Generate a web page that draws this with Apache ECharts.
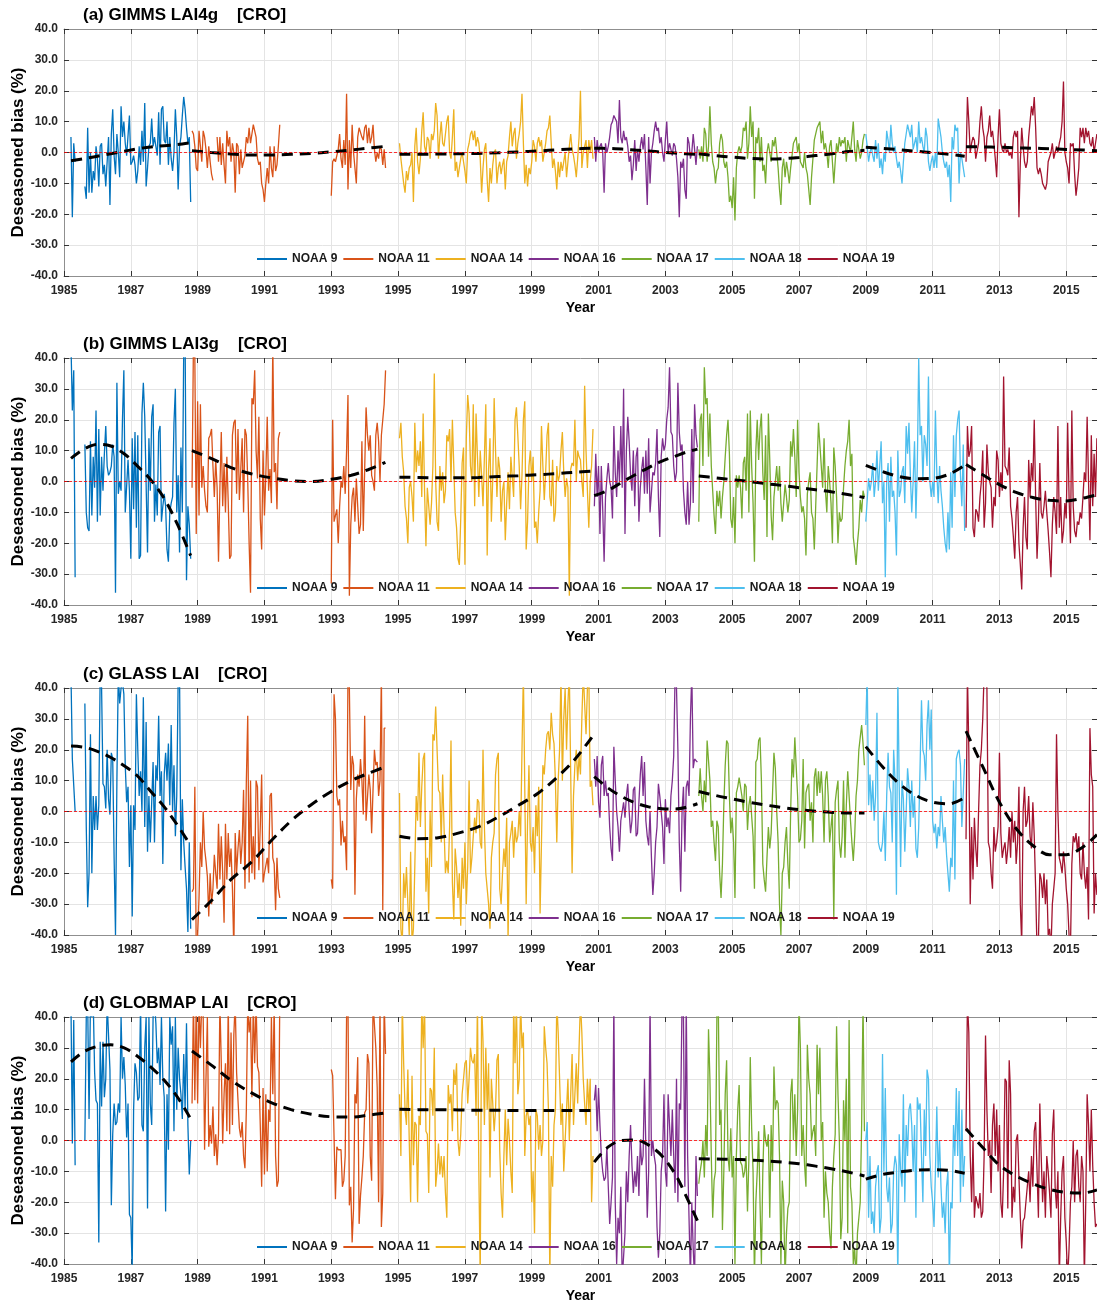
<!DOCTYPE html>
<html><head><meta charset="utf-8">
<script src="https://cdn.jsdelivr.net/npm/echarts@6/dist/echarts.min.js"></script>
<style>html,body{margin:0;padding:0;background:#fff}#c{width:1097px;height:1304px}</style>
</head><body><div id="c"></div>
<script>
const X0 = 1985, XMAX = 2015.92, STEP = 1 / 24;
const satNames = ['NOAA 9', 'NOAA 11', 'NOAA 14', 'NOAA 16', 'NOAA 17', 'NOAA 18', 'NOAA 19'];
const satColors = ['#0072BD', '#D95319', '#EDB120', '#7E2F8E', '#77AC30', '#4DBEEE', '#A2142F'];
const panelTitles = ['(a) GIMMS LAI4g    [CRO]', '(b) GIMMS LAI3g    [CRO]', '(c) GLASS LAI    [CRO]', '(d) GLOBMAP LAI    [CRO]'];
const yTickStep = 10, yMin = -40, yMax = 40, xTickStep = 2;
// first sample time (decimal year) of each data run, semi-monthly samples
const runStarts = {
  'NOAA 9': [1985.208, 1985.625], 'NOAA 11': [1988.833, 1993.0], 'NOAA 14': [1995.042],
  'NOAA 16': [2000.875], 'NOAA 17': [2004.0], 'NOAA 18': [2009.0], 'NOAA 19': [2012.0]
};
// knot times of the fitted trend for each sensor period
const trendTimes = {
  'NOAA 9': [1985.21, 1985.6, 1986.0, 1986.4, 1986.8, 1987.2, 1987.6, 1988.0, 1988.4, 1988.79],
  'NOAA 11': [1988.83, 1989.4, 1990.0, 1990.6, 1991.2, 1991.8, 1992.4, 1993.0, 1993.6, 1994.1, 1994.62],
  'NOAA 14': [1995.04, 1995.6, 1996.2, 1996.8, 1997.4, 1998.0, 1998.6, 1999.2, 1999.8, 2000.3, 2000.83],
  'NOAA 16': [2000.87, 2001.3, 2001.7, 2002.1, 2002.5, 2002.9, 2003.3, 2003.6, 2003.96],
  'NOAA 17': [2004.0, 2004.5, 2005.0, 2005.5, 2006.0, 2006.5, 2007.0, 2007.5, 2008.0, 2008.5, 2008.96],
  'NOAA 18': [2009.0, 2009.5, 2010.0, 2010.5, 2011.0, 2011.5, 2011.96],
  'NOAA 19': [2012.0, 2012.5, 2013.0, 2013.5, 2014.0, 2014.5, 2015.0, 2015.5, 2015.92]
};

// ---------- (a) GIMMS LAI4g ----------
const a_N9_1 = [5,-21,3,-3];
const a_N9_2 = [-11,-15,8,-13,0,-13,-6,-9,2,-2,-11,2,3,-7,-4,-11,-11,5,-17,6,14,-1,-7,6,0,-8,15,5,10,3,-1,-1,12,-4,-3,-1,-4,-10,-6,2,-4,7,-3,16,-11,-5,2,3,11,2,5,2,-1,13,-4,14,15,4,3,10,-4,5,-2,-6,0,14,5,-12,2,5,12,18,14,8,3,5,-16];
const a_N11_1 = [7,6,2,-5,-6,7,2,-3,7,5,1,-5,2,-3,-7,-9,null,null,5,-3,5,-4,3,-4,-10,7,2,5,-3,3,0,-13,3,2,-7,1,-5,-5,-1,5,3,8,3,6,9,9,5,-2,-4,-3,-10,-12,-16,-10,-5,-10,2,-5,-8,2,-6,-4,2,9];
const a_N11_2 = [-14,-3,-2,-3,-3,1,6,-2,-5,4,-4,19,-12,4,-5,9,0,-5,-10,5,8,8,5,4,8,9,3,8,3,5,9,1,-3,0,-2,2,1,-4,1,-5];
const a_N14 = [3,-2,-6,-10,-13,-6,-9,-5,-4,0,-16,2,8,-3,-7,-2,7,13,2,0,5,4,-2,6,4,7,16,12,-2,5,10,3,2,6,10,12,0,-2,5,14,-6,-3,-8,-5,-2,0,-3,-6,-10,1,3,6,7,4,7,2,5,3,-2,-13,-5,1,3,-9,-16,-5,-10,-4,0,1,-10,-5,-3,-7,-4,-2,-12,-3,-1,5,10,2,6,8,-2,3,6,10,19,3,-10,-4,-11,-5,-7,-3,4,2,-3,3,5,2,4,-3,0,3,7,8,12,3,-5,-2,-6,-12,-3,-8,-3,-6,-3,0,-8,-3,2,6,1,-1,-4,-8,-2,5,20,-5,0,2,4,-5,4,0,4,-2];
const a_N16 = [5,-3,4,0,2,3,0,-13,3,0,2,5,9,10,12,12,10,3,17,5,3,7,4,5,2,-3,-1,-9,-4,4,-6,1,-3,2,5,1,6,-5,-17,5,-10,0,3,7,10,7,8,3,5,0,-3,4,10,0,3,1,-1,3,2,-2,-8,-21,-3,-5,-2,-12,-15,5,3,-2,0,6,1,-4,2];
const a_N17 = [1,-2,2,-3,8,6,-3,2,15,3,-3,-5,-10,-6,-5,3,6,4,-3,-5,-3,-8,-16,-14,-18,-8,-22,-5,0,2,0,2,8,7,10,-2,3,15,5,10,-15,5,3,8,-3,5,-6,-4,-10,0,3,0,-3,4,2,5,5,-5,-12,-17,-5,-2,-8,-3,-6,-10,-5,-1,3,4,5,0,3,-3,-3,-5,0,-5,-7,-12,-17,-8,-2,4,6,8,8,10,3,7,1,3,0,-5,2,4,-3,-10,-3,3,0,5,2,4,3,5,-3,4,2,0,0,10,1,-3,4,1,-2,0,4,6];
const a_N18 = [6,2,-3,0,2,-1,-3,4,-2,3,-5,-2,-7,0,-3,7,4,0,9,3,0,2,-2,-5,-3,-6,-10,-3,3,6,9,9,5,9,1,3,5,0,10,3,5,2,0,8,5,-3,-6,-3,-1,-5,0,-5,11,8,5,0,-3,-5,-3,-8,-4,-16,5,1,9,7,8,-10,0,-2,-5,-8];
const a_N19 = [-3,18,10,0,3,5,4,-2,-2,3,10,15,8,5,-3,5,7,12,5,7,3,-2,-8,5,14,3,1,0,3,0,1,-1,0,-2,5,7,5,7,-21,-3,8,2,-3,-5,-3,5,10,15,12,18,8,-5,-7,-5,-7,-10,-11,-12,-10,-3,-3,0,3,-2,0,2,0,3,5,10,23,0,-3,-5,-10,3,2,3,-7,-14,-10,-5,8,5,8,3,8,5,7,3,2,5,0,3,6];
const a_trend = [
  [-2.7,-2.0,-1.2,-0.4,0.4,1.2,1.8,2.2,2.6,3.2],
  [0.6,0,-0.5,-0.8,-0.8,-0.6,-0.3,0.2,0.8,1.4,2.0],
  [-0.6,-0.6,-0.5,-0.4,-0.3,-0.1,0.2,0.5,0.9,1.2,1.4],
  [1.4,1.3,1.1,0.8,0.5,0.1,-0.2,-0.4,-0.6],
  [-0.4,-1.0,-1.5,-1.9,-2.1,-2.0,-1.6,-1.0,-0.4,0.3,0.7],
  [1.7,1.3,0.9,0.4,-0.1,-0.6,-1.2],
  [1.9,1.8,1.7,1.5,1.4,1.2,1.0,0.8,0.6]
];

// ---------- (b) GIMMS LAI3g ----------
const b_N9_1 = [45,23,36,-31];
const b_N9_2 = [12,-10,-15,-16,13,-11,8,-2,23,-13,17,-11,8,-3,9,18,5,2,3,5,12,8,-36,32,-4,0,-3,20,36,-10,-10,7,-3,-25,14,-9,16,-15,15,-25,-24,22,32,21,21,-23,14,-3,21,25,-13,-1,-11,16,18,-13,-8,-4,-8,-22,-26,-10,-7,-5,19,30,-10,2,-23,11,-10,42,48,-32,-8,-14,-25];
const b_N11_1 = [-2,45,40,-17,26,-11,25,-2,5,-3,-8,-10,14,15,17,5,-5,7,-2,-26,-2,16,-8,6,-10,8,-7,-25,-24,15,19,20,-4,17,-6,4,14,-10,17,15,0,-20,-36,27,25,36,10,1,21,-12,-22,10,-11,2,21,-3,4,-7,45,3,6,-9,14,16];
const b_N11_2 = [-33,20,-13,-13,-9,-20,-8,0,-2,5,-4,10,28,-37,-14,-5,-2,-13,1,-8,-17,-14,13,-16,-16,24,15,10,15,2,0,-3,15,19,13,0,15,20,25,36];
const b_N14 = [14,19,8,3,-8,-12,-20,-2,0,-5,-13,19,3,10,5,13,-5,22,-3,-21,-2,-2,-14,-7,5,35,0,-13,-16,5,-3,3,-7,-3,15,13,17,0,20,5,-10,-15,-25,-27,-12,6,11,-27,14,28,22,5,0,25,-8,22,8,-5,10,2,-8,8,25,-24,4,14,-13,1,27,10,-5,8,4,-13,-3,0,-19,-7,3,-9,8,8,-5,20,24,15,5,-9,2,20,26,-22,-13,5,10,0,8,-15,-13,-20,-10,-3,18,5,-6,3,15,19,-5,-8,7,-13,-10,5,0,2,10,16,3,-5,1,-2,-37,4,6,5,20,0,10,8,7,0,-5,31,10,-3,-15,0,5,17];
const b_N16 = [-8,9,-5,5,-17,5,-9,-26,-5,1,6,0,-2,-12,18,3,-5,10,0,18,-2,30,-17,10,21,13,2,-3,10,-8,8,11,-13,-2,4,8,-4,10,-4,14,-10,-10,3,2,6,17,-5,-18,8,14,10,12,20,24,37,16,15,5,0,3,32,16,10,12,-3,-10,-14,0,-14,-7,17,-7,25,15,11];
const b_N17 = [-13,20,22,5,37,25,27,8,22,5,5,-11,-17,-3,-8,-3,-12,-5,0,8,15,20,9,-12,-15,-5,-20,2,-2,2,-2,-12,6,8,-3,22,-10,23,5,-7,-26,10,20,7,17,22,3,-6,15,-18,22,7,-11,-19,-5,0,5,-3,5,-7,-13,-7,-1,-5,-10,-6,13,8,17,8,-5,20,3,-5,-10,-8,-12,-24,-4,0,3,-10,-12,-22,-8,5,19,12,5,-2,14,-3,-10,5,0,-7,-20,11,5,-5,-20,-10,-13,-12,-2,5,10,13,20,5,9,-18,-22,-27,-20,-15,-6,-10,-3,-5];
const b_N18 = [-13,-6,1,-3,0,6,-5,0,10,-3,5,13,-7,0,-31,0,6,-13,8,-5,-3,-10,-24,10,-5,-3,3,5,-7,18,9,19,2,-10,0,13,-12,5,40,15,18,0,15,12,5,34,0,-5,0,-5,23,3,-7,5,-3,-8,-15,-20,-23,-10,-22,3,-15,15,-5,15,20,23,2,-8,12,-16];
const b_N19 = [-15,18,8,10,18,-15,-18,-9,-10,-13,-5,0,10,-15,-7,12,3,0,-2,-15,-5,-8,10,7,-5,3,-3,34,5,4,2,11,-8,-12,-18,-25,-10,-5,-20,-27,-35,-15,-5,-18,-22,7,-5,6,0,20,-5,-25,-13,6,-10,-12,-8,-3,-10,-16,-23,-31,-14,-5,-10,-17,18,-15,-5,-20,-16,-7,-12,19,-5,-20,23,-8,-16,-18,-13,-14,-10,-12,-5,3,0,21,0,-19,15,-8,9,-5,14];
const b_trend = [
  [7.5,10.5,12,11.5,9,5,0.5,-5.5,-14,-24],
  [10,7.5,4.5,2.5,1.2,0.3,0,0.7,2,3.8,6.2],
  [1.4,1.3,1.2,1.2,1.3,1.6,1.9,2.2,2.6,3.0,3.4],
  [-4.6,-2.8,-0.2,2.2,4.5,6.6,8.2,9.4,10.5],
  [1.8,1.2,0.6,0,-0.7,-1.3,-2.0,-2.7,-3.4,-4.3,-5.2],
  [5.2,3.2,1.6,0.9,1.0,2.4,5.3],
  [5.5,2.2,-1,-3.5,-5.2,-6.1,-6.3,-5.4,-4.3]
];

// ---------- (c) GLASS LAI ----------
const c_N9_1 = [45,17,17,0];
const c_N9_2 = [35,-5,-31,-20,25,-20,5,-6,5,-6,2,45,40,9,8,1,20,4,-1,19,17,-15,-40,10,45,35,40,42,38,15,3,8,-18,2,-34,2,-6,38,20,5,13,0,37,-5,29,-13,5,-10,3,16,-10,15,10,31,5,13,-17,12,19,10,22,2,28,0,15,-8,5,42,45,-19,4,-10,-18,-25,-39,-10,-38];
const c_N11_1 = [-26,-25,8,-45,-40,-28,-10,-18,0,-12,-16,-21,-34,-20,-30,-25,-14,-20,-25,-4,-22,-8,-20,-36,-4,-22,-7,-18,-12,-25,-45,-7,-20,-12,-6,-17,-10,7,-25,10,31,-23,10,-20,-8,-22,10,8,-19,-5,12,-23,-20,-20,-15,-20,5,6,-15,-17,-32,-15,-25,-28];
const c_N11_2 = [-22,-25,38,30,5,2,4,-11,-3,-10,-8,-19,45,40,7,18,15,-27,4,12,8,17,10,-1,31,-3,-3,12,7,-7,7,20,15,16,5,10,45,-32,27,27];
const c_N14 = [6,-38,-43,-20,-28,-18,-30,-40,-13,-43,-38,-18,5,-3,19,-5,8,17,19,-26,-15,-33,0,-18,25,23,34,20,7,6,-10,12,-5,-20,-16,-20,-5,23,-23,-35,-12,-18,-28,-20,-37,-15,-25,-10,-30,-18,10,-20,-15,-8,-2,-7,4,3,-10,-12,20,-5,-20,-25,-30,-38,-15,-10,-7,12,17,19,-25,-30,-20,-12,-18,-2,-42,-10,-7,-3,-15,-5,-10,-8,0,-8,20,45,45,-30,-3,15,-10,-13,-5,-20,2,-8,8,-33,-10,15,12,20,25,26,20,32,25,22,10,-10,10,20,45,10,30,40,20,35,45,12,-20,5,15,20,10,18,12,30,45,35,25,40,45,8,10,2];
const c_N16 = [17,8,18,3,-2,15,18,5,10,5,6,-5,-12,-16,21,10,0,-5,-13,-3,0,3,-2,5,9,0,-7,-3,7,8,-8,-7,3,12,18,5,16,-3,-8,-11,0,-15,-27,-20,-10,-5,9,5,0,-5,-17,4,-5,-2,-7,5,10,18,45,40,20,-10,-26,0,8,-13,8,10,5,30,45,14,17,17,16];
const c_N17 = [5,14,5,0,10,3,23,23,10,-5,-3,-10,-16,-3,-5,-20,-28,-17,2,15,23,22,5,-7,-2,-10,-28,6,8,11,11,5,0,9,8,-6,2,5,5,-8,-25,16,17,23,24,10,-17,-22,-26,-15,-5,-12,-7,6,19,14,0,-10,-30,-40,-20,-18,-10,-5,-17,-25,0,17,11,24,24,5,-10,-9,-3,17,-12,6,8,9,-3,3,-10,11,14,5,13,6,13,5,-10,10,13,5,-10,-5,0,-35,3,7,10,-10,-15,-8,10,-15,2,13,5,-3,-10,-16,-8,5,10,20,24,28,22,15];
const c_N18 = [28,45,2,12,0,10,-3,5,32,-10,-12,-13,-10,0,-16,5,19,8,6,-10,20,10,-27,45,8,-18,10,4,-13,0,14,8,-5,10,-2,5,-12,-15,-5,15,36,20,18,10,28,36,20,33,-3,-7,-4,-12,-5,-8,5,-3,-10,-5,-14,-20,-26,-15,-18,10,-22,17,19,20,15,-5,6,17];
const c_N19 = [-9,45,20,-30,-5,-22,-2,-12,-18,0,15,20,30,45,45,40,-10,-12,-20,-25,-5,-13,-10,-5,19,-7,-15,-12,-10,-17,-12,-5,-15,0,-10,-3,-17,-10,8,-30,-43,0,8,-5,-3,5,-8,-12,3,-8,-25,-45,-42,-20,-22,-28,-20,-30,-22,-40,-38,-45,-30,-25,-20,25,0,-15,-17,-20,-13,-18,-25,-30,-40,-45,-17,-8,-10,-7,-13,-8,-20,-22,-10,-20,-25,-18,-35,27,12,8,-33,-20,-27];
const c_trend = [
  [21.2,20.8,19.5,17.5,14.8,11.5,6.5,1.5,-4.5,-11],
  [-35,-29,-22,-16.5,-9.5,-3,2.2,6.5,10,12.3,14.5],
  [-8,-8.8,-8.5,-7,-5,-1.8,2,6,11.5,17,24.5],
  [11.3,7.5,4.8,2.8,1.5,0.9,0.8,1.3,2.5],
  [6.5,5.2,4.1,3.0,2.1,1.3,0.6,0.1,-0.3,-0.5,-0.5],
  [21,14.5,9,5.2,3,2.5,4.5],
  [26,14.5,3,-5.5,-11,-14,-14,-11.5,-7.5]
];

// ---------- (d) GLOBMAP LAI ----------
const d_N9_1 = [45,-1,39,-8];
const d_N9_2 = [0,40,45,7,45,40,45,22,13,12,-33,32,11,32,14,20,45,45,23,-21,2,12,5,6,12,9,40,20,27,18,1,12,-24,-25,-42,10,25,22,13,14,45,5,3,30,40,-22,40,12,5,40,45,38,25,30,18,40,20,14,-23,15,-3,40,31,37,3,40,10,30,20,15,7,28,10,38,5,-11,0];
const d_N11_1 = [12,45,13,45,12,45,30,45,40,-3,20,40,-2,5,-1,11,-5,2,-8,2,45,25,-1,15,25,3,45,2,35,5,34,45,22,22,4,1,6,-5,-9,10,45,35,40,14,45,25,45,24,22,5,-15,17,-11,15,-10,10,6,40,15,45,-5,-15,-13,45];
const d_N11_2 = [23,21,21,-19,-2,-3,-3,-3,-15,-13,-5,40,45,-21,-15,-33,-22,15,12,27,-27,-18,-12,-5,9,10,28,25,-5,-13,45,45,30,17,-20,45,-28,-17,45,28];
const d_N14 = [15,-5,45,25,10,5,23,0,-20,21,-8,6,5,-20,8,5,45,30,45,3,2,-17,17,16,8,30,-15,-10,-1,-11,-5,-12,-5,-17,-25,18,12,15,3,23,18,25,0,-5,2,15,20,25,26,12,20,30,26,25,28,8,45,-10,-45,45,32,5,30,10,25,-12,20,12,3,10,26,28,-3,-17,-25,-5,10,-8,7,0,-10,-17,45,25,45,15,20,45,30,35,-5,8,10,5,8,-20,-10,-30,10,8,-3,5,-5,0,37,30,25,10,-45,-5,-15,5,10,45,35,20,5,12,-10,0,10,20,0,15,28,5,15,25,12,30,45,35,20,12,5,20,10,20,-20,-5];
const d_N16 = [13,18,3,17,5,-5,-10,-13,-12,-2,-15,-27,-20,-12,45,-20,-40,-25,-30,-15,-45,-45,-30,-10,-20,-5,5,-8,-17,-10,-15,-5,-18,0,-8,-5,20,20,-25,-10,45,-5,0,-5,-8,-28,-38,-30,-10,-5,15,-10,-15,15,5,-5,10,-5,-17,20,-20,12,10,45,40,-15,45,-5,-25,-45,-20,-35,-45,-5,-18];
const d_N17 = [-14,-10,-7,0,-12,5,-5,36,20,-5,-25,-13,-10,40,45,5,10,-29,-10,15,26,-5,-10,4,-12,-5,-40,-5,10,18,-7,-8,-12,-10,-5,-23,-6,27,4,-10,-45,-20,-10,3,-20,-40,-10,5,0,-2,2,-25,5,-10,24,10,13,12,-5,-40,-13,-20,-45,-30,-22,-20,15,20,0,15,-5,10,45,30,-5,5,-8,-15,31,20,15,0,3,5,-5,31,15,30,0,6,-25,-10,-17,-20,-30,-35,-15,-5,2,37,15,0,-32,-25,13,0,20,-30,39,-15,-20,-40,-35,-45,-30,-25,-20,5,45,3];
const d_N18 = [0,6,-25,-5,-27,-23,-30,-15,-10,-8,-30,-25,28,-10,17,-15,-20,-12,-30,-27,-10,-5,-8,-45,2,-10,-15,15,-20,5,-5,10,12,5,-10,5,-25,14,10,12,-5,-20,10,-5,23,20,-5,-15,-20,-28,-10,11,-12,0,-15,-25,-20,-30,-15,-10,-45,-20,-22,5,-5,17,-5,16,-20,10,-15,-5];
const d_N19 = [3,45,35,-5,-20,0,-25,-18,-20,-22,-17,-25,-23,-5,34,10,-5,0,-17,5,12,-5,10,-10,5,-20,-25,-10,20,19,-22,26,15,-25,-15,-20,0,2,-12,-25,-35,-26,-25,-20,-15,-10,-20,-5,-15,3,6,-10,-25,12,-5,-20,-10,-25,-5,-10,-17,-25,2,10,-15,-22,-10,-45,-25,-10,-5,-25,-33,-45,-35,-20,-15,0,-20,-5,-3,-15,-20,-5,-10,-45,-20,15,5,-10,10,-8,-20,-28,-27];
const d_trend = [
  [25.5,28.8,30.5,31,30,27.3,23.8,19.5,14,7],
  [29,24.5,19.5,15.5,12.3,10,8.5,7.7,7.6,8.2,8.9],
  [10.1,10,10,9.9,9.8,9.8,9.7,9.7,9.7,9.7,9.7],
  [-7,-2,0,0.2,-1.5,-5,-11,-17.5,-26],
  [-5.9,-6.0,-6.1,-6.3,-6.6,-7.0,-7.5,-8.3,-9.2,-10.3,-11.5],
  [-12.5,-11,-10.2,-9.6,-9.5,-9.7,-10.6],
  [3.8,-2.3,-8,-11.5,-14,-15.8,-16.8,-17,-16]
];

const panels = [
  { runs: [[a_N9_1, a_N9_2], [a_N11_1, a_N11_2], [a_N14], [a_N16], [a_N17], [a_N18], [a_N19]], trend: a_trend },
  { runs: [[b_N9_1, b_N9_2], [b_N11_1, b_N11_2], [b_N14], [b_N16], [b_N17], [b_N18], [b_N19]], trend: b_trend },
  { runs: [[c_N9_1, c_N9_2], [c_N11_1, c_N11_2], [c_N14], [c_N16], [c_N17], [c_N18], [c_N19]], trend: c_trend },
  { runs: [[d_N9_1, d_N9_2], [d_N11_1, d_N11_2], [d_N14], [d_N16], [d_N17], [d_N18], [d_N19]], trend: d_trend }
];

const FONT = '"Liberation Sans", Arial, Helvetica, sans-serif';
const plotTops = [29, 358, 688, 1017];
const plotH = 247, plotLeft = 64;

function satData(runs, starts) {
  const out = [];
  runs.forEach((vals, r) => {
    if (r > 0) out.push([starts[r] - X0 - STEP, null]);
    vals.forEach((v, i) => out.push([starts[r] - X0 + i * STEP, v]));
  });
  return out;
}
function trendData(tr) {
  const out = [];
  satNames.forEach((n, s) => {
    if (s > 0) out.push([trendTimes[n][0] - X0 - 0.01, null]);
    trendTimes[n].forEach((t, i) => out.push([t - X0, tr[s][i]]));
  });
  return out;
}

const option = { animation: false, grid: [], xAxis: [], yAxis: [], series: [], legend: [], title: [] };
const tickStyle = { inside: true, length: 5, lineStyle: { color: '#333', width: 1 } };
const frameLine = { show: true, onZero: false, lineStyle: { color: '#8f8f8f', width: 1 } };
const gridLine = { show: true, lineStyle: { color: '#e4e4e4', width: 1 } };
const lblStyle = { fontSize: 12, fontWeight: 'bold', color: '#262626', fontFamily: FONT };

panels.forEach((p, k) => {
  const top = plotTops[k];
  option.grid.push({ left: plotLeft, right: 0, top: top, height: plotH, containLabel: false, outerBoundsMode: 'none' });
  option.title.push({ text: panelTitles[k], left: 83, top: top - 22, padding: 0,
    textStyle: { fontSize: 17, fontWeight: 'bold', color: '#000', fontFamily: FONT } });
  option.xAxis.push({ type: 'value', gridIndex: k, position: 'bottom', min: 0, max: XMAX - X0, interval: xTickStep,
    axisLine: frameLine, axisTick: tickStyle, splitLine: gridLine,
    axisLabel: Object.assign({ margin: 9, showMaxLabel: false, formatter: function (v) {
      const r = Math.round(v); return (Math.abs(v - r) < 1e-6 && r % 2 === 0) ? String(X0 + r) : ''; } }, lblStyle),
    name: 'Year', nameLocation: 'middle', nameGap: 25, nameMoveOverlap: false,
    nameTextStyle: { fontSize: 14, fontWeight: 'bold', color: '#000', fontFamily: FONT } });
  option.xAxis.push({ type: 'value', gridIndex: k, position: 'top', min: 0, max: XMAX - X0, interval: xTickStep,
    axisLine: frameLine, axisTick: tickStyle, axisLabel: { show: false }, splitLine: { show: false } });
  option.yAxis.push({ type: 'value', gridIndex: k, position: 'left', min: yMin, max: yMax, interval: yTickStep,
    axisLine: frameLine, axisTick: tickStyle, splitLine: gridLine,
    axisLabel: Object.assign({ margin: 6, formatter: v => v.toFixed(1) }, lblStyle),
    name: 'Deseasoned bias (%)', nameLocation: 'middle', nameGap: 37, nameRotate: 90, nameMoveOverlap: false,
    nameTextStyle: { fontSize: 17, fontWeight: 'bold', color: '#000', fontFamily: FONT } });
  option.yAxis.push({ type: 'value', gridIndex: k, position: 'right', min: yMin, max: yMax, interval: yTickStep,
    axisLine: frameLine, axisTick: tickStyle, axisLabel: { show: false }, splitLine: { show: false } });
  option.legend.push({ data: satNames, left: 257, top: top + 224, orient: 'horizontal', padding: 0,
    icon: 'rect', itemWidth: 30, itemHeight: 2, itemGap: 6, selectedMode: false,
    textStyle: { fontSize: 12, fontWeight: 'bold', color: '#1a1a1a', fontFamily: FONT } });
  satNames.forEach((n, s) => {
    option.series.push({ type: 'line', name: n, xAxisIndex: 2 * k, yAxisIndex: 2 * k,
      data: satData(p.runs[s], runStarts[n]), symbol: 'none', showSymbol: false, connectNulls: false,
      lineStyle: { width: 1.3, color: satColors[s] }, itemStyle: { color: satColors[s] },
      silent: true, z: 2 });
  });
  option.series.push({ type: 'line', name: 'trend', xAxisIndex: 2 * k, yAxisIndex: 2 * k,
    data: trendData(p.trend), symbol: 'none', showSymbol: false, connectNulls: false, smooth: 0.35,
    lineStyle: { width: 3, color: '#000', type: [11, 7] }, silent: true, z: 4,
    markLine: { symbol: 'none', silent: true, label: { show: false }, animation: false,
      lineStyle: { color: '#ff0000', width: 0.8, type: [3, 2] }, data: [{ yAxis: 0 }] } });
});

const chart = echarts.init(document.getElementById('c'), null, { renderer: 'canvas' });
chart.setOption(option);
</script>
</body></html>
